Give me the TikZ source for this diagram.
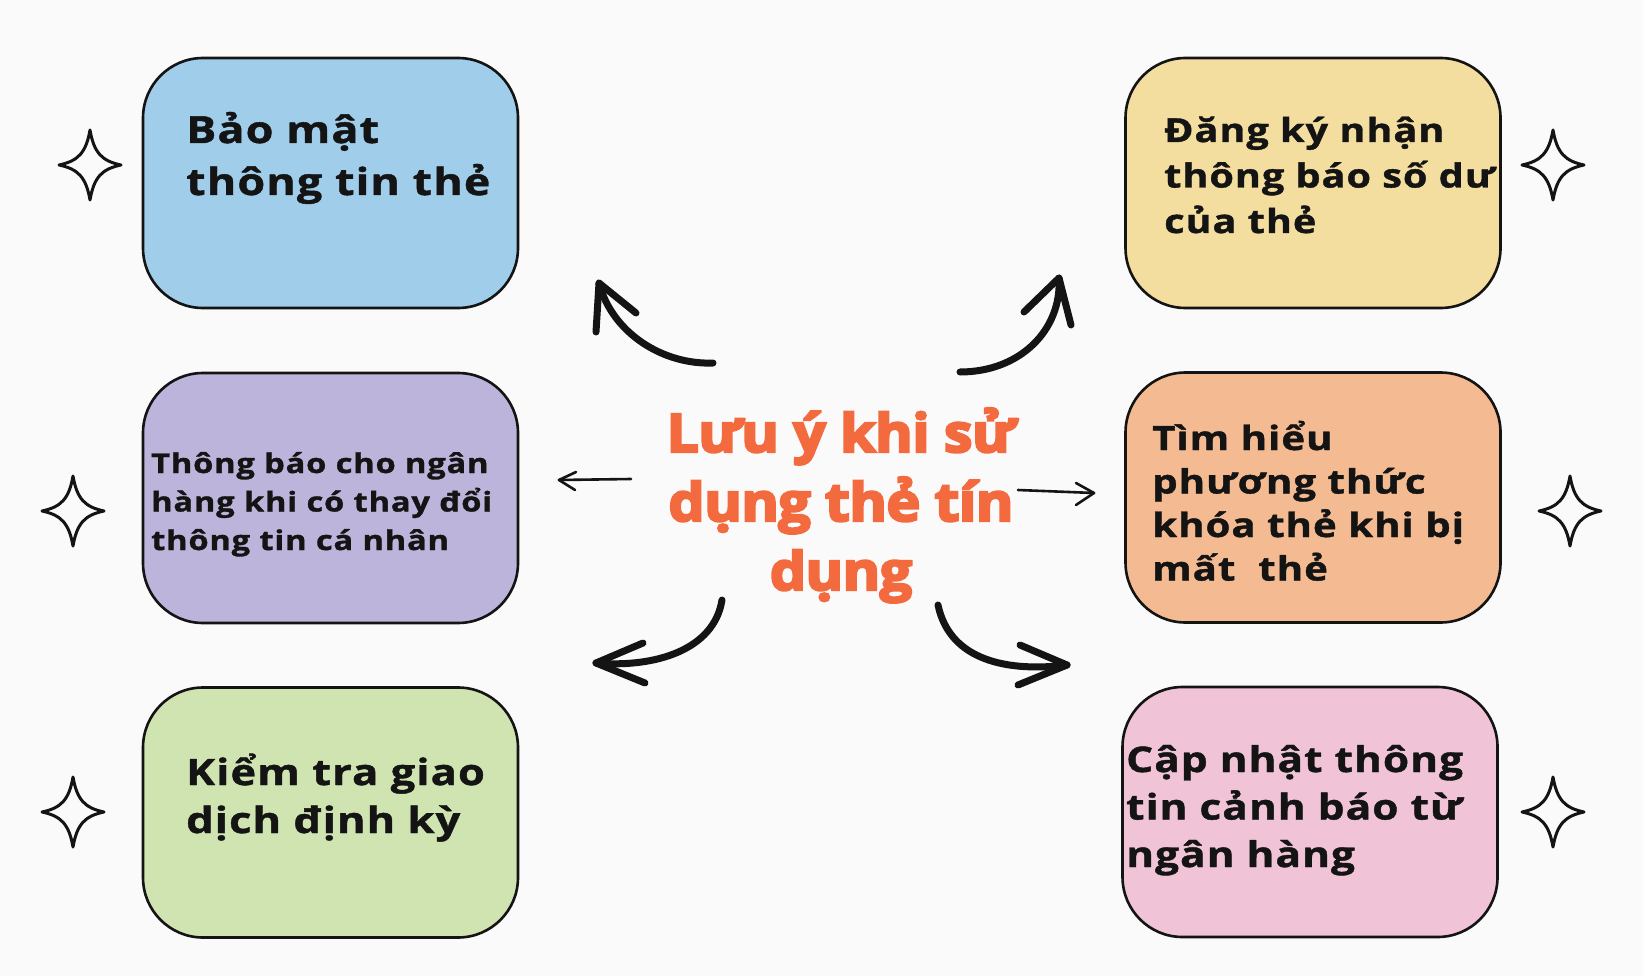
\documentclass[tikz,border=0pt]{standalone}
\usepackage{fontspec}
\setmainfont{Open Sans}
\newfontfamily\boxfont{Open Sans}[FakeStretch=1.2, LetterSpace=3, BoldFeatures={FakeBold=1.2}]
\newfontfamily\titlefont{Open Sans}[FakeStretch=1.08, LetterSpace=-1, BoldFeatures={FakeBold=4.5}]
\definecolor{bg}{HTML}{FAFAFA}
\definecolor{cblue}{HTML}{9FCDEA}
\definecolor{cyellow}{HTML}{F3DE9F}
\definecolor{cpurple}{HTML}{BDB4DB}
\definecolor{corange}{HTML}{F4BB92}
\definecolor{cgreen}{HTML}{D0E4B2}
\definecolor{cpink}{HTML}{F0C4D6}
\definecolor{ctitle}{HTML}{F26A3D}
\definecolor{ink}{HTML}{141414}
\tikzset{
  card/.style={draw=ink, line width=2.6pt, rounded corners=60pt, inner sep=0pt, minimum width=375pt, minimum height=250pt},
  cardtext/.style={anchor=base west, align=left, inner sep=0pt, text=ink},
  bigarrow/.style={draw=ink, line width=7pt, line cap=round, line join=round},
  thinarrow/.style={draw=ink, line width=2.6pt, line cap=round, line join=round},
  starline/.style={draw=ink, line width=3pt, line join=round},
  sparkle/.pic={\draw[starline] (0,-35) .. controls (4,-12) and (12,-4) .. (31,0) .. controls (12,4) and (4,12) .. (0,35) .. controls (-4,12) and (-12,4) .. (-31,0) .. controls (-12,-4) and (-4,-12) .. cycle;}
}
\begin{document}
\begin{tikzpicture}[x=1pt,y=-1pt]
\fill[bg] (0,0) rectangle (1643,976);
\useasboundingbox (0,0) rectangle (1643,976);

% boxes
\node[card, fill=cblue]   (b1) at (330.5,183) {};
\node[card, fill=cyellow] (b2) at (1313,183) {};
\node[card, fill=cpurple] (b3) at (330.5,498) {};
\node[card, fill=corange] (b4) at (1313,497.5) {};
\node[card, fill=cgreen]  (b5) at (330.5,812.5) {};
\node[card, fill=cpink]   (b6) at (1310,812) {};

% texts (anchor = baseline of last line)
\node[cardtext, font=\boxfont\bfseries\fontsize{37.4pt}{52pt}\selectfont] (t1) at (186,195) {Bảo mật\\thông tin thẻ};
\node[cardtext, font=\boxfont\bfseries\fontsize{33pt}{45.5pt}\selectfont] (t2) at (1164,233) {Đăng ký nhận\\thông báo số dư\\của thẻ};
\node[cardtext, font=\boxfont\bfseries\fontsize{27.2pt}{38.5pt}\selectfont] (t3) at (151,550) {Thông báo cho ngân\\hàng khi có thay đổi\\thông tin cá nhân};
\node[cardtext, font=\boxfont\bfseries\fontsize{33.5pt}{43.5pt}\selectfont] (t4) at (1152,580.5) {Tìm hiểu\\phương thức\\khóa thẻ khi bị\\mất\ \ thẻ};
\node[cardtext, font=\boxfont\bfseries\fontsize{36.2pt}{48pt}\selectfont] (t5) at (186,833) {Kiểm tra giao\\dịch định kỳ};
\node[cardtext, font=\boxfont\bfseries\fontsize{35.3pt}{47.5pt}\selectfont] (t6) at (1126,867) {Cập nhật thông\\tin cảnh báo từ\\ngân hàng};

% title
\node[anchor=base, align=center, inner sep=0pt, text=ctitle, font=\titlefont\bfseries\fontsize{53pt}{69pt}\selectfont] (title) at (841,590) {Lưu ý khi sử\\dụng thẻ tín\\dụng};

% sparkles
\pic at (90,165) {sparkle};
\pic at (1553,165) {sparkle};
\pic at (73,511) {sparkle};
\pic at (1570,511) {sparkle};
\pic at (73,812) {sparkle};
\pic at (1553,812) {sparkle};

% arrow coordinates
\coordinate (a1s) at (713,363); \coordinate (a1t) at (599,283);
\coordinate (a1l) at (636,313); \coordinate (a1r) at (596,332);
\coordinate (a2s) at (960,372); \coordinate (a2t) at (1059,278);
\coordinate (a2l) at (1024,312); \coordinate (a2r) at (1071,325);
\coordinate (a3s) at (722,600); \coordinate (a3t) at (596,663);
\coordinate (a3l) at (643,643); \coordinate (a3r) at (645,683);
\coordinate (a4s) at (938,605); \coordinate (a4t) at (1067,665);
\coordinate (a4l) at (1020,645); \coordinate (a4r) at (1018,685);
\coordinate (a5s) at (631,479); \coordinate (a5t) at (559,480);
\coordinate (a5l) at (576,472); \coordinate (a5r) at (575,490);
\coordinate (a6s) at (1018,490); \coordinate (a6t) at (1094,493);
\coordinate (a6l) at (1076,483); \coordinate (a6r) at (1076,505);

\draw[bigarrow] (a1s) .. controls (663,365) and (612,333) .. (a1t);
\draw[bigarrow] (a1l) -- (a1t) -- (a1r);
\draw[bigarrow] (a2s) .. controls (1020,372) and (1062,330) .. (a2t);
\draw[bigarrow] (a2l) -- (a2t) -- (a2r);
\draw[bigarrow] (a3s) .. controls (714,650) and (655,668) .. (a3t);
\draw[bigarrow] (a3l) -- (a3t) -- (a3r);
\draw[bigarrow] (a4s) .. controls (950,662) and (1010,672) .. (a4t);
\draw[bigarrow] (a4l) -- (a4t) -- (a4r);
\draw[thinarrow] (a5s) -- (a5t);
\draw[thinarrow] (a5l) -- (a5t) -- (a5r);
\draw[thinarrow] (a6s) -- (a6t);
\draw[thinarrow] (a6l) -- (a6t) -- (a6r);
\end{tikzpicture}
\end{document}
